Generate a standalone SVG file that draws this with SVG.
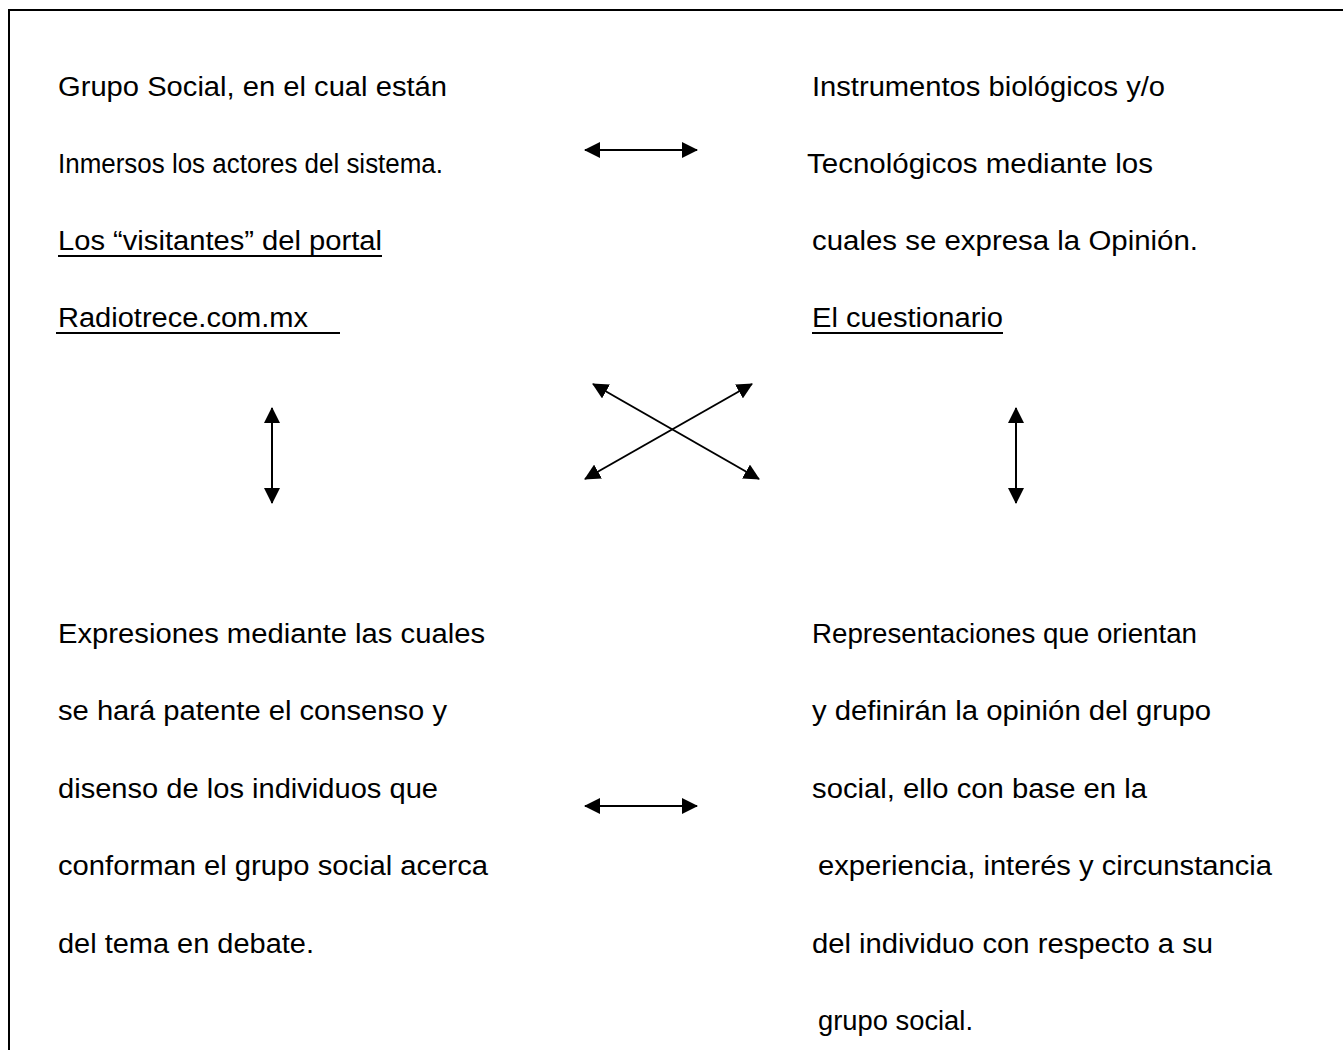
<svg xmlns="http://www.w3.org/2000/svg" width="1343" height="1050" viewBox="0 0 1343 1050">
<style>
text{font-family:"Liberation Sans",Arial,sans-serif;font-size:27px;fill:#000}
.ul{stroke:#000;stroke-width:2}
.ar{stroke:#000;stroke-width:2;fill:none;marker-start:url(#ah);marker-end:url(#ah)}
</style>
<defs>
<marker id="ah" markerUnits="userSpaceOnUse" markerWidth="16" markerHeight="16" refX="15" refY="8" orient="auto-start-reverse" viewBox="0 0 16 16">
<path d="M0,0 L16,8 L0,16 z" fill="#000"/>
</marker>
</defs>
<rect width="1343" height="1050" fill="#fff"/>
<path d="M9,1050 V10 H1343" fill="none" stroke="#000" stroke-width="2"/>
<g id="n-grupo">
<text x="58" y="96" textLength="389" lengthAdjust="spacingAndGlyphs">Grupo Social, en el cual están</text>
<text x="58" y="173" textLength="385" lengthAdjust="spacingAndGlyphs">Inmersos los actores del sistema.</text>
<text x="58" y="250" textLength="324" lengthAdjust="spacingAndGlyphs">Los “visitantes” del portal</text>
<line class="ul" x1="58" y1="256" x2="382" y2="256"/>
<text x="58" y="327" textLength="250" lengthAdjust="spacingAndGlyphs">Radiotrece.com.mx</text>
<line class="ul" x1="56" y1="333" x2="340" y2="333"/>
</g>
<g id="n-instrumentos">
<text x="812" y="96" textLength="353" lengthAdjust="spacingAndGlyphs">Instrumentos biológicos y/o</text>
<text x="807" y="173" textLength="346" lengthAdjust="spacingAndGlyphs">Tecnológicos mediante los</text>
<text x="812" y="250" textLength="386" lengthAdjust="spacingAndGlyphs">cuales se expresa la Opinión.</text>
<text x="812" y="327" textLength="191" lengthAdjust="spacingAndGlyphs">El cuestionario</text>
<line class="ul" x1="812" y1="333" x2="1003" y2="333"/>
</g>
<g id="n-expresiones">
<text x="58" y="643" textLength="427" lengthAdjust="spacingAndGlyphs">Expresiones mediante las cuales</text>
<text x="58" y="720" textLength="389" lengthAdjust="spacingAndGlyphs">se hará patente el consenso y</text>
<text x="58" y="798" textLength="380" lengthAdjust="spacingAndGlyphs">disenso de los individuos que</text>
<text x="58" y="875" textLength="430" lengthAdjust="spacingAndGlyphs">conforman el grupo social acerca</text>
<text x="58" y="953" textLength="256" lengthAdjust="spacingAndGlyphs">del tema en debate.</text>
</g>
<g id="n-representaciones">
<text x="812" y="643" textLength="385" lengthAdjust="spacingAndGlyphs">Representaciones que orientan</text>
<text x="812" y="720" textLength="399" lengthAdjust="spacingAndGlyphs">y definirán la opinión del grupo</text>
<text x="812" y="798" textLength="335" lengthAdjust="spacingAndGlyphs">social, ello con base en la</text>
<text x="818" y="875" textLength="454" lengthAdjust="spacingAndGlyphs">experiencia, interés y circunstancia</text>
<text x="812" y="953" textLength="401" lengthAdjust="spacingAndGlyphs">del individuo con respecto a su</text>
<text x="818" y="1030" textLength="155" lengthAdjust="spacingAndGlyphs">grupo social.</text>
</g>
<g id="connectors">
<line class="ar" x1="585" y1="150" x2="697" y2="150"/>
<line class="ar" x1="585" y1="806" x2="697" y2="806"/>
<line class="ar" x1="272" y1="408" x2="272" y2="503"/>
<line class="ar" x1="1016" y1="408" x2="1016" y2="503"/>
<line class="ar" x1="593" y1="384" x2="759" y2="479"/>
<line class="ar" x1="752" y1="384" x2="585" y2="479"/>
</g>
</svg>
